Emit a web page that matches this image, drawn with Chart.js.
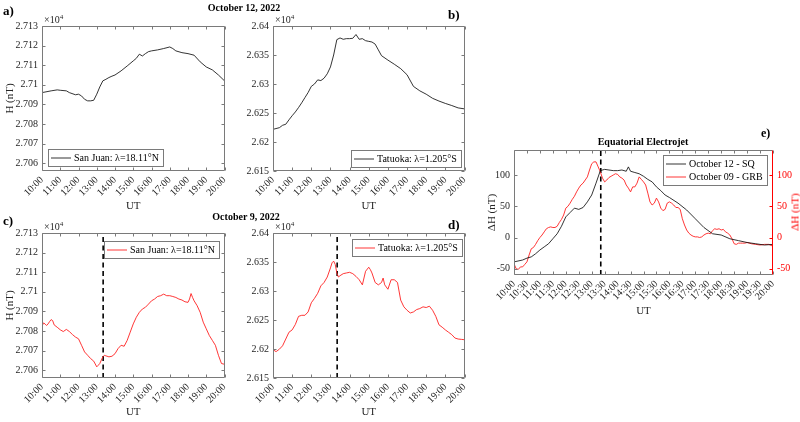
<!DOCTYPE html>
<html>
<head>
<meta charset="utf-8">
<script src="https://cdn.jsdelivr.net/npm/chart.js@4.4.0/dist/chart.umd.min.js"></script>
<style>
body { margin: 0; background: #fff; width: 800px; height: 422px; overflow: hidden; position: relative;
       font-family: "Liberation Serif", "Times New Roman", serif; }
canvas { position: absolute; }
.t { position: absolute; white-space: nowrap; color: #000; line-height: 1; }
.b { font-weight: bold; }
.mult { font-size: 10px; color: #262626; }
.mult sup { font-size: 7px; vertical-align: 4px; }
</style>
</head>
<body>
<canvas id="pa" width="236" height="215" style="left:0;top:0"></canvas>
<canvas id="pb" width="240" height="215" style="left:236px;top:0"></canvas>
<canvas id="pc" width="236" height="215" style="left:0;top:206px"></canvas>
<canvas id="pd" width="240" height="215" style="left:236px;top:206px"></canvas>
<canvas id="pe" width="324" height="200" style="left:476px;top:120px"></canvas>

<div class="t b" style="left:3px;top:4px;font-size:13px">a)</div>
<div class="t b" style="left:244px;top:3px;font-size:10px;transform:translateX(-50%)">October 12, 2022</div>
<div class="t b" style="left:448px;top:8px;font-size:13px">b)</div>
<div class="t mult" style="left:44px;top:14px">×10<sup>4</sup></div>
<div class="t mult" style="left:275px;top:14px">×10<sup>4</sup></div>

<div class="t b" style="left:3px;top:214px;font-size:13px">c)</div>
<div class="t b" style="left:246px;top:212px;font-size:10px;transform:translateX(-50%)">October 9, 2022</div>
<div class="t b" style="left:448px;top:218px;font-size:13px">d)</div>
<div class="t mult" style="left:44px;top:221px">×10<sup>4</sup></div>
<div class="t mult" style="left:275px;top:221px">×10<sup>4</sup></div>

<div class="t b" style="left:643px;top:137px;font-size:10px;transform:translateX(-50%)">Equatorial Electrojet</div>
<div class="t b" style="left:761px;top:127px;font-size:12px">e)</div>
<div class="t" style="left:795px;top:212px;font-size:11px;color:#ff0000;transform:translate(-50%,-50%) rotate(-90deg)">ΔH (nT)</div>

<script>
// tick labels
const hourTicks = ['10:00', '11:00', '12:00', '13:00', '14:00', '15:00', '16:00', '17:00', '18:00', '19:00', '20:00'];
const halfHourTicks = ['10:00', '10:30', '11:00', '11:30', '12:00', '12:30', '13:00', '13:30', '14:00', '14:30', '15:00',
    '15:30', '16:00', '16:30', '17:00', '17:30', '18:00', '18:30', '19:00', '19:30', '20:00'];
const sjTicks = [2.706, 2.707, 2.708, 2.709, 2.710, 2.711, 2.712, 2.713];
const sjTickLabels = ['2.706', '2.707', '2.708', '2.709', '2.71', '2.711', '2.712', '2.713'];
const ttTicks = [2.615, 2.620, 2.625, 2.630, 2.635, 2.640];
const ttTickLabels = ['2.615', '2.62', '2.625', '2.63', '2.635', '2.64'];
const eejTicks = [-50, 0, 50, 100];
const eejTickLabels = ['-50', '0', '50', '100'];

const grbTime = '13:21';

// a) San Juan, October 12 (H, x10^4 nT)
const sjOct12Time = ['10:00', '10:30', '10:50', '11:00', '11:20', '11:30', '11:50', '12:00', '12:10', '12:20', '12:30', '12:40',
    '12:50', '13:00', '13:10', '13:20', '13:30', '13:40', '13:50', '14:00', '14:20', '14:40', '15:00', '15:10', '15:20', '15:30',
    '15:40', '15:50', '16:00', '16:20', '16:40', '17:00', '17:10', '17:20', '17:40', '18:00', '18:20', '18:40', '19:00', '19:20',
    '19:40', '20:00'];
const sjOct12H = [2.70960, 2.70969, 2.70974, 2.70972, 2.70969, 2.70960, 2.70949, 2.70952, 2.70943, 2.70926, 2.70918, 2.70918,
    2.70921, 2.70952, 2.70989, 2.71020, 2.71028, 2.71037, 2.71044, 2.71050, 2.71071, 2.71096, 2.71122, 2.71135, 2.71156, 2.71147,
    2.71159, 2.71169, 2.71173, 2.71178, 2.71185, 2.71193, 2.71185, 2.71173, 2.71164, 2.71159, 2.71151, 2.71117, 2.71091, 2.71076,
    2.71050, 2.71020];

// b) Tatuoka, October 12
const ttOct12Time = ['10:00', '10:20', '10:30', '10:40', '10:50', '11:00', '11:10', '11:20', '11:30', '11:40', '11:50', '12:00',
    '12:10', '12:20', '12:30', '12:40', '12:50', '13:00', '13:10', '13:20', '13:30', '13:40', '13:50', '14:00', '14:10', '14:20',
    '14:30', '14:40', '14:50', '15:00', '15:10', '15:20', '15:30', '15:40', '16:00', '16:20', '16:40', '17:00', '17:20', '17:40',
    '18:00', '18:20', '18:40', '19:00', '19:20', '19:40', '20:00'];
const ttOct12H = [2.62218, 2.62247, 2.62288, 2.62306, 2.62382, 2.62453, 2.62518, 2.62594, 2.62676, 2.62765, 2.62853, 2.62959,
    2.63000, 2.63071, 2.63059, 2.63100, 2.63176, 2.63294, 2.63500, 2.63765, 2.63794, 2.63771, 2.63782, 2.63782, 2.63788, 2.63853,
    2.63771, 2.63782, 2.63747, 2.63735, 2.63724, 2.63688, 2.63588, 2.63488, 2.63412, 2.63341, 2.63265, 2.63159, 2.62959, 2.62882,
    2.62824, 2.62753, 2.62706, 2.62665, 2.62629, 2.62588, 2.62571];

// c) San Juan, October 9
const sjOct9Time = ['10:00', '10:05', '10:10', '10:15', '10:20', '10:25', '10:30', '10:35', '10:40', '10:50', '11:00', '11:10',
    '11:20', '11:30', '11:40', '11:50', '12:00', '12:10', '12:20', '12:30', '12:40', '12:50', '13:00', '13:05', '13:10', '13:20',
    '13:25', '13:30', '13:40', '13:50', '14:00', '14:10', '14:20', '14:30', '14:40', '14:50', '15:00', '15:10', '15:20', '15:30',
    '15:40', '15:50', '16:00', '16:10', '16:20', '16:30', '16:40', '16:50', '17:00', '17:10', '17:20', '17:30', '17:40', '17:50',
    '18:00', '18:05', '18:10', '18:15', '18:20', '18:30', '18:40', '18:50', '19:00', '19:10', '19:20', '19:30', '19:40', '19:50',
    '20:00'];
const sjOct9H = [2.70824, 2.70841, 2.70836, 2.70828, 2.70836, 2.70848, 2.70858, 2.70853, 2.70831, 2.70819, 2.70806, 2.70797,
    2.70808, 2.70797, 2.70782, 2.70769, 2.70760, 2.70727, 2.70693, 2.70676, 2.70659, 2.70646, 2.70617, 2.70625, 2.70634, 2.70668,
    2.70676, 2.70673, 2.70668, 2.70671, 2.70684, 2.70710, 2.70727, 2.70722, 2.70752, 2.70794, 2.70836, 2.70870, 2.70895, 2.70912,
    2.70921, 2.70937, 2.70954, 2.70963, 2.70976, 2.70980, 2.70988, 2.70980, 2.70980, 2.70976, 2.70971, 2.70963, 2.70958, 2.70949,
    2.70946, 2.70963, 2.70991, 2.70971, 2.70954, 2.70929, 2.70895, 2.70845, 2.70811, 2.70777, 2.70752, 2.70727, 2.70676, 2.70634,
    2.70630];

// d) Tatuoka, October 9
const ttOct9Time = ['10:00', '10:05', '10:10', '10:20', '10:30', '10:40', '10:50', '11:00', '11:10', '11:20', '11:30', '11:40',
    '11:50', '12:00', '12:10', '12:20', '12:30', '12:40', '12:50', '13:00', '13:05', '13:10', '13:15', '13:20', '13:25', '13:30',
    '13:40', '13:50', '14:00', '14:10', '14:20', '14:30', '14:40', '14:50', '15:00', '15:05', '15:10', '15:20', '15:30', '15:40',
    '15:45', '15:50', '16:00', '16:10', '16:20', '16:30', '16:40', '16:50', '17:00', '17:10', '17:20', '17:30', '17:40', '17:50',
    '18:00', '18:10', '18:20', '18:30', '18:40', '18:50', '19:00', '19:10', '19:20', '19:30', '19:40', '19:50', '20:00'];
const ttOct9H = [2.62014, 2.61967, 2.61956, 2.61997, 2.62055, 2.62172, 2.62289, 2.62329, 2.62423, 2.62563, 2.62581, 2.62581,
    2.62639, 2.62797, 2.62873, 2.62960, 2.63089, 2.63147, 2.63241, 2.63398, 2.63486, 2.63515, 2.63457, 2.63311, 2.63241, 2.63264,
    2.63299, 2.63311, 2.63322, 2.63299, 2.63252, 2.63194, 2.63106, 2.63340, 2.63410, 2.63369, 2.63311, 2.63147, 2.63106, 2.63147,
    2.63223, 2.63106, 2.63030, 2.63194, 2.63194, 2.63147, 2.62843, 2.62727, 2.62668, 2.62621, 2.62639, 2.62680, 2.62697, 2.62727,
    2.62715, 2.62738, 2.62668, 2.62563, 2.62417, 2.62376, 2.62329, 2.62289, 2.62248, 2.62189, 2.62172, 2.62166, 2.62160];

// e) Equatorial electrojet, delta H (nT)
const eejSqTime = ['10:00', '10:20', '10:30', '10:40', '10:50', '11:00', '11:10', '11:20', '11:30', '11:40', '11:50', '12:00',
    '12:10', '12:20', '12:30', '12:40', '12:50', '13:00', '13:10', '13:20', '13:30', '13:40', '13:50', '14:00', '14:10', '14:20',
    '14:25', '14:30', '14:40', '14:50', '15:00', '15:10', '15:20', '15:30', '15:40', '15:50', '16:00', '16:20', '16:40', '17:00',
    '17:20', '17:40', '18:00', '18:20', '18:40', '19:00', '19:20', '19:40', '20:00'];
const eejSq = [-39, -36, -33, -31, -26, -20, -15, -10, -2, 6, 18, 33, 40, 47, 45, 48, 57, 68, 87, 107, 109, 108, 107, 107, 108, 106,
    113, 106, 104, 102, 98, 93, 89, 81, 75, 68, 64, 55, 44, 30, 16, 6, 4, -2, -5, -8, -10, -12, -11];
const eejGrbTime = ['10:00', '10:05', '10:10', '10:15', '10:20', '10:25', '10:30', '10:35', '10:40', '10:45', '10:50', '10:55',
    '11:00', '11:05', '11:10', '11:15', '11:20', '11:25', '11:30', '11:35', '11:40', '11:45', '11:50', '11:55', '12:00', '12:05',
    '12:10', '12:15', '12:20', '12:25', '12:30', '12:35', '12:40', '12:45', '12:50', '12:55', '13:00', '13:05', '13:10', '13:15',
    '13:20', '13:25', '13:30', '13:35', '13:40', '13:45', '13:50', '13:55', '14:00', '14:05', '14:10', '14:15', '14:20', '14:25',
    '14:30', '14:35', '14:40', '14:45', '14:50', '14:55', '15:00', '15:05', '15:10', '15:15', '15:20', '15:25', '15:30', '15:35',
    '15:40', '15:45', '15:50', '15:55', '16:00', '16:05', '16:10', '16:15', '16:20', '16:25', '16:30', '16:35', '16:40', '16:45',
    '16:50', '16:55', '17:00', '17:05', '17:10', '17:15', '17:20', '17:25', '17:30', '17:35', '17:40', '17:45', '17:50', '17:55',
    '18:00', '18:05', '18:10', '18:15', '18:20', '18:25', '18:30', '18:35', '18:40', '18:45', '18:50', '18:55', '19:00', '19:10',
    '19:20', '19:30', '19:40', '19:50', '20:00'];
const eejGrb = [-42, -50, -51, -47, -47, -43, -39, -28, -18, -16, -11, -5,
    0, 4, 9, 14, 16, 17, 16, 16, 18, 24, 29, 36, 47, 50,
    55, 61, 66, 73, 79, 84, 87, 92, 97, 108, 118, 121, 121, 113,
    105, 95, 89, 92, 96, 98, 100, 102, 101, 97, 95, 92, 84, 79,
    73, 81, 81, 87, 97, 93, 89, 84, 71, 57, 52, 55, 63, 57,
    47, 43, 45, 55, 57, 55, 52, 48, 48, 45, 30, 20, 12, 7,
    4, 2, 1, 1, 0, 1, 4, 6, 7, 6, 11, 14, 13, 14,
    12, 13, 9, 7, 4, -2, -10, -11, -9, -9, -9, -9, -8, -10,
    -11, -12, -11, -11, -14];

function hrs(s) {
    const p = s.split(':').map(Number);
    return p[0] + p[1] / 60;
}
function pts(times, vals) {
    return times.map(function(t, i) { return { x: hrs(t), y: vals[i] }; });
}

Chart.defaults.font.family = '"Liberation Serif", "Times New Roman", serif';
Chart.defaults.animation = false;

const FRAME = '#7a7a7a';
const TEXT = '#262626';

// MATLAB style box with inward ticks on every side
const matlabBox = {
    id: 'matlabBox',
    afterDatasetsDraw(chart, args, o) {
        const ctx = chart.ctx, a = chart.chartArea, sc = chart.scales;
        const L = 3;
        const l = Math.round(a.left) + 0.5, r = Math.round(a.right) - 0.5;
        const t = Math.round(a.top) + 0.5, b = Math.round(a.bottom) - 0.5;
        ctx.save();
        ctx.lineWidth = 1;
        ctx.strokeStyle = FRAME;
        ctx.beginPath();
        sc.x.ticks.forEach(function(tk) {
            const px = Math.round(sc.x.getPixelForValue(tk.value)) + 0.5;
            ctx.moveTo(px, b); ctx.lineTo(px, b - L);
            ctx.moveTo(px, t); ctx.lineTo(px, t + L);
        });
        sc.y.ticks.forEach(function(tk) {
            const py = Math.round(sc.y.getPixelForValue(tk.value)) + 0.5;
            ctx.moveTo(l, py); ctx.lineTo(l + L, py);
            if (!sc.y1) { ctx.moveTo(r, py); ctx.lineTo(r - L, py); }
        });
        ctx.moveTo(r, t); ctx.lineTo(l, t); ctx.lineTo(l, b); ctx.lineTo(r, b);
        if (!sc.y1) ctx.lineTo(r, t);
        ctx.stroke();
        if (sc.y1) {
            ctx.strokeStyle = o.rightColor;
            ctx.beginPath();
            sc.y1.ticks.forEach(function(tk) {
                const py = Math.round(sc.y1.getPixelForValue(tk.value)) + 0.5;
                ctx.moveTo(r, py); ctx.lineTo(r - L, py);
            });
            ctx.moveTo(r, t); ctx.lineTo(r, b);
            ctx.stroke();
        }
        ctx.restore();
    }
};

// legend box drawn inside the axes
const boxLegend = {
    id: 'boxLegend',
    afterDraw(chart, args, o) {
        if (!o.corner) return;
        const ctx = chart.ctx, a = chart.chartArea;
        const items = chart.data.datasets.filter(function(d) { return d.label; });
        ctx.save();
        ctx.font = '10px "Liberation Serif"';
        const rowH = 13, padL = 3, line = 20, gap = 3, padR = 4, padV = 2;
        const tw = Math.max.apply(null, items.map(function(d) { return ctx.measureText(d.label).width; }));
        const w = Math.round(padL + line + gap + tw + padR), h = items.length * rowH + padV * 2;
        const x = Math.round(o.corner.indexOf('l') >= 0 ? a.left + o.mx : a.right - o.mx - w);
        const y = Math.round(o.corner.indexOf('t') >= 0 ? a.top + o.my : a.bottom - o.my - h);
        ctx.fillStyle = '#fff';
        ctx.fillRect(x, y, w, h);
        ctx.strokeStyle = FRAME;
        ctx.lineWidth = 1;
        ctx.strokeRect(x + 0.5, y + 0.5, w, h);
        items.forEach(function(d, i) {
            const cy = y + padV + rowH * i + rowH / 2 + 0.5;
            ctx.strokeStyle = d.borderColor;
            ctx.lineWidth = d.borderWidth;
            ctx.beginPath();
            ctx.moveTo(x + padL, cy); ctx.lineTo(x + padL + line, cy);
            ctx.stroke();
            ctx.fillStyle = '#000';
            ctx.textBaseline = 'middle';
            ctx.fillText(d.label, x + padL + line + gap, cy + 0.5);
        });
        ctx.restore();
    }
};

function panel(id, p) {
    const datasets = p.series.map(function(s) {
        return {
            label: s.label, data: pts(s.t, s.v), borderColor: s.color, borderWidth: s.width,
            pointRadius: 0, tension: 0, fill: false, yAxisID: s.axis || 'y'
        };
    });
    if (p.dashed) {
        datasets.push({
            label: '', data: [{ x: hrs(grbTime), y: p.yMin }, { x: hrs(grbTime), y: p.yMax }],
            borderColor: '#000', borderWidth: 1.6, borderDash: [5, 3.5], pointRadius: 0, yAxisID: 'y'
        });
    }
    const scales = {
        x: {
            type: 'linear', min: 10, max: 20,
            grid: { display: false, drawTicks: false }, border: { display: false },
            afterBuildTicks: function(s) { s.ticks = p.xTicks.map(function(t) { return { value: hrs(t) }; }); },
            afterFit: function(s) { s.height = p.xHeight; },
            ticks: {
                autoSkip: false, minRotation: 45, maxRotation: 45, padding: 3, color: TEXT, font: { size: 10 },
                callback: function(v, i) { return p.xTicks[i]; }
            },
            title: { display: true, text: 'UT', color: TEXT, font: { size: 11 }, padding: { top: 0, bottom: 2 } }
        },
        y: {
            min: p.yMin, max: p.yMax,
            grid: { display: false, drawTicks: false }, border: { display: false },
            afterBuildTicks: function(s) { s.ticks = p.yTicks.map(function(v) { return { value: v }; }); },
            afterFit: function(s) { s.width = p.yWidth; },
            ticks: {
                padding: 4, color: TEXT, font: { size: 10 },
                callback: function(v, i) { return p.yLabels[i]; }
            },
            title: {
                display: !!p.yTitle, text: p.yTitle || '', color: TEXT, font: { size: 11 },
                padding: { top: p.yTitlePad || 4, bottom: 0 }
            }
        }
    };
    if (p.right) {
        scales.y1 = {
            position: 'right', min: p.yMin, max: p.yMax,
            grid: { display: false, drawTicks: false }, border: { display: false },
            afterBuildTicks: function(s) { s.ticks = p.yTicks.map(function(v) { return { value: v }; }); },
            afterFit: function(s) { s.width = p.right.width; },
            ticks: {
                padding: 4, color: p.right.color, font: { size: 10 },
                callback: function(v, i) { return p.yLabels[i]; }
            }
        };
    }
    return new Chart(document.getElementById(id), {
        type: 'line',
        data: { datasets: datasets },
        options: {
            responsive: false,
            devicePixelRatio: 1,
            layout: { padding: p.padding },
            scales: scales,
            plugins: {
                legend: { display: false },
                tooltip: { enabled: false },
                matlabBox: { rightColor: p.right ? p.right.color : FRAME },
                boxLegend: p.legend
            }
        },
        plugins: [matlabBox, boxLegend]
    });
}

const BLACK = '#000000';
const RED = '#ff2020';

panel('pa', {
    series: [{ label: 'San Juan: λ=18.11°N', t: sjOct12Time, v: sjOct12H, color: BLACK, width: 0.8 }],
    yMin: 2.7056, yMax: 2.713, yTicks: sjTicks, yLabels: sjTickLabels, xTicks: hourTicks,
    yTitle: 'H (nT)', yWidth: 42, xHeight: 44, padding: { left: 0, top: 26, right: 8, bottom: 0 },
    legend: { corner: 'bl', mx: 6, my: 5 }
});
panel('pb', {
    series: [{ label: 'Tatuoka: λ=1.205°S', t: ttOct12Time, v: ttOct12H, color: BLACK, width: 0.8 }],
    yMin: 2.615, yMax: 2.64, yTicks: ttTicks, yLabels: ttTickLabels, xTicks: hourTicks,
    yWidth: 37, xHeight: 44, padding: { left: 0, top: 26, right: 8, bottom: 0 },
    legend: { corner: 'br', mx: 4, my: 4 }
});
panel('pc', {
    series: [{ label: 'San Juan: λ=18.11°N', t: sjOct9Time, v: sjOct9H, color: RED, width: 0.9 }],
    yMin: 2.7056, yMax: 2.713, yTicks: sjTicks, yLabels: sjTickLabels, xTicks: hourTicks, dashed: true,
    yTitle: 'H (nT)', yWidth: 42, xHeight: 43, padding: { left: 0, top: 27, right: 8, bottom: 0 },
    legend: { corner: 'tr', mx: 6, my: 8 }
});
panel('pd', {
    series: [{ label: 'Tatuoka: λ=1.205°S', t: ttOct9Time, v: ttOct9H, color: RED, width: 0.9 }],
    yMin: 2.615, yMax: 2.64, yTicks: ttTicks, yLabels: ttTickLabels, xTicks: hourTicks, dashed: true,
    yWidth: 37, xHeight: 43, padding: { left: 0, top: 27, right: 8, bottom: 0 },
    legend: { corner: 'tr', mx: 3, my: 6 }
});
panel('pe', {
    series: [
        { label: 'October 12 - SQ', t: eejSqTime, v: eejSq, color: BLACK, width: 0.8 },
        { label: 'October 09 - GRB', t: eejGrbTime, v: eejGrb, color: RED, width: 0.9, axis: 'y1' }
    ],
    yMin: -60, yMax: 140, yTicks: eejTicks, yLabels: eejTickLabels, xTicks: halfHourTicks, dashed: true,
    yTitle: 'ΔH (nT)', yTitlePad: 10, yWidth: 38, xHeight: 45, padding: { left: 0, top: 30, right: 0, bottom: 0 },
    right: { color: '#ff0000', width: 27 },
    legend: { corner: 'tr', mx: 6, my: 5 }
});
</script>
</body>
</html>
